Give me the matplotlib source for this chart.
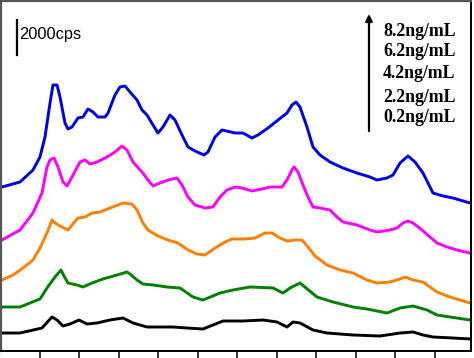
import matplotlib
matplotlib.use("Agg")
import matplotlib.pyplot as plt
import numpy as np

# x positions (channel units) and intensities (arbitrary units, 35 units = 2000 cps)
x_blue = [2,20,33,40,45,50,53,57,60,65,68,72,78,83,88,93,98,105,108,115,120,125,130,137,142,147,153,158,163,170,175,182,188,195,204,208,215,222,235,243,252,258,268,278,287,292,296,300,307,313,320,330,343,357,370,377,387,393,400,408,415,423,433,443,453,470]
y_blue = [164,169,181,194,214,248,266,266,254,228,222,224,233,234,242,239,234,234,238,256,264,265,259,251,241,236,226,218,224,236,231,216,204,200,196,199,214,221,218,218,213,216,223,231,238,246,249,244,224,204,196,189,183,178,174,171,173,176,188,195,189,178,158,155,153,148]

x_mag = [2,20,33,42,47,50,54,58,63,67,72,80,85,90,97,107,115,122,127,133,142,148,153,160,168,177,182,188,195,205,213,220,227,235,242,252,262,270,282,287,292,294,298,303,308,313,320,330,337,343,357,370,377,390,397,403,408,413,422,430,437,447,457,470]
y_mag = [111,121,138,158,184,191,193,184,169,165,174,189,191,187,189,194,199,205,201,189,179,171,165,168,171,173,166,154,146,143,144,154,161,164,163,160,162,164,164,171,181,184,179,166,154,144,143,141,134,129,126,121,119,121,123,128,130,128,121,114,108,104,101,98]

x_org = [2,13,23,33,40,47,52,55,62,68,72,78,85,92,100,110,118,123,132,137,143,148,158,168,178,188,197,205,215,225,232,245,255,265,272,280,287,295,302,308,315,327,340,353,367,377,390,400,405,413,423,430,437,450,460,470]
y_org = [71,76,83,91,103,118,131,128,124,121,126,133,134,138,139,143,146,148,147,141,128,121,115,111,108,101,97,96,103,109,112,112,113,118,118,113,110,111,111,104,95,86,81,78,71,68,69,72,74,71,69,64,59,54,51,48]

x_grn = [2,20,30,40,47,55,61,64,68,77,83,92,103,117,127,130,137,143,153,167,180,193,203,220,233,250,273,283,290,300,317,333,353,367,387,400,413,427,437,450,470]
y_grn = [44,44,48,52,63,74,81,75,68,66,64,68,72,76,79,77,71,67,66,64,63,54,51,58,61,64,63,58,63,68,54,49,44,42,38,43,45,41,36,34,31]

x_blk = [2,20,42,52,57,63,70,79,87,97,110,123,133,147,173,187,203,213,223,243,263,277,287,293,300,313,327,353,380,400,413,423,433,453,470]
y_blk = [18,18,23,34,31,25,27,31,27,28,31,33,28,24,24,23,22,26,30,30,31,29,24,29,28,21,18,16,15,18,19,16,14,13,12]

labels = ["8.2ng/mL", "6.2ng/mL", "4.2ng/mL", "2.2ng/mL", "0.2ng/mL"]
scale_label = "2000cps"
scale_value = 35

W, H = 474, 358
fig = plt.figure(figsize=(W/100, H/100), dpi=100)
ax = fig.add_axes([1/W, (H-351)/H, (471-1)/W, (351-1)/H])

series = [(x_blk, y_blk, "black"), (x_grn, y_grn, "#008000"),
          (x_org, y_org, "#FF8000"), (x_mag, y_mag, "#FF00FF"),
          (x_blue, y_blue, "#0000E6")]
for xs, ys, c in series:
    ax.plot(xs, ys, color=c, lw=2.1, solid_joinstyle="round")

ax.set_xlim(1, 471)
ax.set_ylim(0, 350)
ax.set_xticks(np.arange(40, 470, 39.45))
ax.set_yticks([])
ax.tick_params(axis="x", direction="out", length=5.5, width=1.1, labelbottom=False)
for s in ["left", "top"]:
    ax.spines[s].set_color("#555555")
    ax.spines[s].set_linewidth(1.6)
for s in ["right", "bottom"]:
    ax.spines[s].set_color("black")
    ax.spines[s].set_linewidth(1.4)

# scale bar
ax.plot([17, 17], [351-55, 351-55+scale_value], color="black", lw=1.6)
ax.text(19, 351-35, scale_label, fontsize=11.8, family="Liberation Sans",
        va="center", ha="left")

# arrow
ax.annotate("", xy=(369, 351-14), xytext=(369, 351-131),
            arrowprops=dict(arrowstyle="-|>", color="black", lw=1.6,
                            mutation_scale=10, shrinkA=0, shrinkB=0))
ys_lab = [31, 52, 74, 97, 118]
for lab, yy in zip(labels, ys_lab):
    ax.text(383, 351-yy, lab, fontsize=12.8, family="Liberation Serif",
            fontweight="bold", va="center", ha="left")

fig.savefig("out.png", dpi=100)
